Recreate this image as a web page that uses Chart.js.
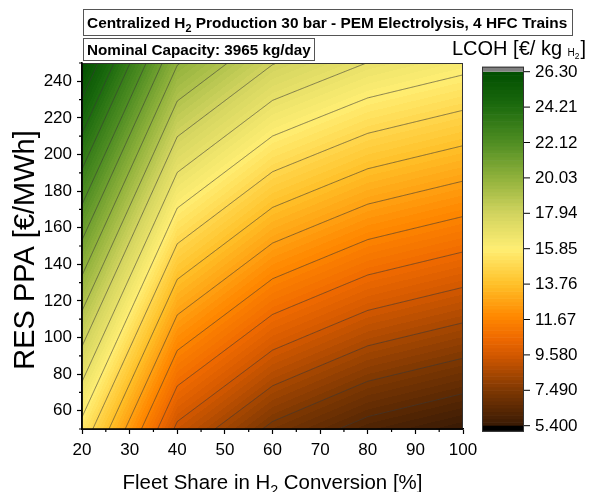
<!DOCTYPE html>
<html><head><meta charset="utf-8">
<script src="https://cdn.jsdelivr.net/npm/chart.js@4.4.1/dist/chart.umd.min.js"></script>
<style>html,body{margin:0;padding:0;background:#fff}</style>
</head><body>
<canvas id="c" width="598" height="492"></canvas>
<script>
// ---------- data ----------
const fleetShare = [20, 40, 60, 80, 100];          // x nodes [%]
const ppa = [50, 100, 150, 200, 250];               // y nodes [€/MWh]
// LCOH [€/kg] at each PPA row, columns follow fleetShare
const lcoh50  = [15.50,  9.36,  7.27,  6.08,  5.40];
const lcoh100 = [18.20, 12.05,  9.95,  8.78,  8.10];
const lcoh150 = [20.90, 14.74, 12.63, 11.48, 10.80];
const lcoh200 = [23.60, 17.42, 15.31, 14.18, 13.50];
const lcoh250 = [26.30, 20.10, 17.99, 16.88, 16.20];
const lcohRows = [lcoh50, lcoh100, lcoh150, lcoh200, lcoh250];
const xTicks = [20, 30, 40, 50, 60, 70, 80, 90, 100];
const yTicks = [60, 80, 100, 120, 140, 160, 180, 200, 220, 240];
const cbTicks = ['26.30','24.21','22.12','20.03','17.94','15.85','13.76','11.67','9.580','7.490','5.400'];
const zMin = 5.40, zMax = 26.30;

// ---------- style ----------
const FONT = '"Liberation Sans", Arial, sans-serif';
const nLines = 20, nBands = 100;
const cmapStops = [
  [0.00, [55, 25, 4]],
  [0.10, [125, 55, 2]],
  [0.20, [210, 88, 0]],
  [0.25, [240, 106, 0]],
  [0.31, [255, 136, 0]],
  [0.40, [255, 192, 40]],
  [0.50, [255, 238, 115]],
  [0.60, [210, 212, 95]],
  [0.70, [145, 178, 60]],
  [0.80, [80, 142, 35]],
  [0.90, [30, 108, 15]],
  [1.00, [0, 78, 0]]
];
function cmap(t) {
  t = Math.max(0, Math.min(1, t));
  for (let i = 1; i < cmapStops.length; i++) {
    if (t <= cmapStops[i][0]) {
      const a = cmapStops[i-1], b = cmapStops[i];
      const f = (t - a[0]) / (b[0] - a[0]);
      return a[1].map((v, k) => Math.round(v + (b[1][k] - v) * f));
    }
  }
  return cmapStops[cmapStops.length-1][1];
}
function seg(arr, v) {
  let i = 0;
  while (i < arr.length - 2 && v > arr[i+1]) i++;
  return i;
}
function zAt(x, y) {
  const i = seg(fleetShare, x), j = seg(ppa, y);
  const tx = (x - fleetShare[i]) / (fleetShare[i+1] - fleetShare[i]);
  const ty = (y - ppa[j]) / (ppa[j+1] - ppa[j]);
  const z00 = lcohRows[j][i], z10 = lcohRows[j][i+1], z01 = lcohRows[j+1][i], z11 = lcohRows[j+1][i+1];
  return z00*(1-tx)*(1-ty) + z10*tx*(1-ty) + z01*(1-tx)*ty + z11*tx*ty;
}
function bandColor(z) {
  const step = (zMax - zMin) / nBands;
  let k = Math.floor((z - zMin) / step);
  k = Math.max(0, Math.min(nBands - 1, k));
  return cmap((k + 0.5) / nBands);
}

function richText(ctx, parts, x, y, size, bold, align) {
  const w = parts.map(p => {
    ctx.font = (bold ? 'bold ' : '') + (p.s || 1) * size + 'px ' + FONT;
    return ctx.measureText(p.t).width;
  });
  const total = w.reduce((a, b) => a + b, 0);
  let cx = align === 'center' ? x - total / 2 : (align === 'right' ? x - total : x);
  ctx.textAlign = 'left';
  ctx.textBaseline = 'alphabetic';
  parts.forEach((p, i) => {
    ctx.font = (bold ? 'bold ' : '') + (p.s || 1) * size + 'px ' + FONT;
    ctx.fillText(p.t, cx, y + (p.dy || 0) * size);
    cx += w[i];
  });
  return total;
}
function fitSize(ctx, parts, bold, target) {
  let s = 10;
  const w = parts.reduce((acc, p) => { ctx.font = (bold ? 'bold ' : '') + (p.s || 1) * s + 'px ' + FONT; return acc + ctx.measureText(p.t).width; }, 0);
  return s * target / w;
}

const contourPlugin = {
  id: 'contour',
  beforeDatasetsDraw(chart) {
    const ctx = chart.ctx, a = chart.chartArea, xs = chart.scales.x, ys = chart.scales.y;
    const L = Math.round(a.left), T = Math.round(a.top);
    const W = Math.round(a.right) - L, H = Math.round(a.bottom) - T;
    const img = ctx.createImageData(W, H);
    for (let py = 0; py < H; py++) {
      const yv = ys.getValueForPixel(T + py + 0.5);
      for (let px = 0; px < W; px++) {
        const xv = xs.getValueForPixel(L + px + 0.5);
        const c = bandColor(zAt(xv, yv));
        const o = (py * W + px) * 4;
        img.data[o] = c[0]; img.data[o+1] = c[1]; img.data[o+2] = c[2]; img.data[o+3] = 255;
      }
    }
    ctx.putImageData(img, L, T);

    // contour lines via marching squares on a fine data grid
    const nx = 320, ny = 400;
    const x0 = xs.min, x1 = xs.max, y0 = ys.min, y1 = ys.max;
    const gx = [], gy = [], g = [];
    for (let i = 0; i <= nx; i++) gx.push(x0 + (x1 - x0) * i / nx);
    for (let j = 0; j <= ny; j++) gy.push(y0 + (y1 - y0) * j / ny);
    for (let j = 0; j <= ny; j++) { const r = []; for (let i = 0; i <= nx; i++) r.push(zAt(gx[i], gy[j])); g.push(r); }
    ctx.save();
    ctx.beginPath();
    ctx.rect(a.left, a.top, a.right - a.left, a.bottom - a.top);
    ctx.clip();
    ctx.strokeStyle = 'rgba(55,55,55,0.75)';
    ctx.lineWidth = 0.8;
    ctx.beginPath();
    for (let k = 1; k < nLines; k++) {
      const lv = zMin + (zMax - zMin) * k / nLines;
      for (let j = 0; j < ny; j++) {
        for (let i = 0; i < nx; i++) {
          const v = [g[j][i], g[j][i+1], g[j+1][i+1], g[j+1][i]];
          const P = [[gx[i], gy[j]], [gx[i+1], gy[j]], [gx[i+1], gy[j+1]], [gx[i], gy[j+1]]];
          const pts = [];
          for (let e = 0; e < 4; e++) {
            const va = v[e], vb = v[(e+1)%4];
            if ((va < lv) !== (vb < lv)) {
              const f = (lv - va) / (vb - va);
              const pa = P[e], pb = P[(e+1)%4];
              pts.push([pa[0] + (pb[0]-pa[0])*f, pa[1] + (pb[1]-pa[1])*f]);
            }
          }
          for (let q = 0; q + 1 < pts.length; q += 2) {
            ctx.moveTo(xs.getPixelForValue(pts[q][0]), ys.getPixelForValue(pts[q][1]));
            ctx.lineTo(xs.getPixelForValue(pts[q+1][0]), ys.getPixelForValue(pts[q+1][1]));
          }
        }
      }
    }
    ctx.stroke();
    ctx.restore();
  },
  afterDraw(chart) {
    const ctx = chart.ctx, a = chart.chartArea, xs = chart.scales.x, ys = chart.scales.y;
    ctx.save();
    // frame
    ctx.strokeStyle = '#333'; ctx.lineWidth = 1;
    ctx.strokeRect(a.left, a.top + 0.5, a.right - a.left - 0.5, a.bottom - a.top);
    ctx.strokeStyle = '#000'; ctx.lineWidth = 1.6;
    ctx.beginPath();
    ctx.moveTo(a.left, a.top); ctx.lineTo(a.left, a.bottom); ctx.lineTo(a.right, a.bottom);
    ctx.stroke();
    // minor ticks
    ctx.lineWidth = 1.2;
    ctx.beginPath();
    for (let i = 0; i + 1 < xTicks.length; i++) {
      const px = xs.getPixelForValue((xTicks[i] + xTicks[i+1]) / 2);
      ctx.moveTo(px, a.bottom); ctx.lineTo(px, a.bottom + 3);
    }
    const yMinor = [ys.min].concat(yTicks.slice(0, -1).map((v, i) => (v + yTicks[i+1]) / 2)).concat([yTicks[yTicks.length-1] + 10]);
    yMinor.forEach(v => { const py = ys.getPixelForValue(v); ctx.moveTo(a.left, py); ctx.lineTo(a.left - 3, py); });
    ctx.stroke();

    // title boxes
    ctx.fillStyle = '#000';
    ctx.strokeStyle = '#555'; ctx.lineWidth = 1;
    ctx.strokeRect(83.5, 9.5, 489, 26);
    const tParts = [{t: 'Centralized H'}, {t: '2', s: 0.7, dy: 0.28}, {t: ' Production 30 bar - PEM Electrolysis, 4 HFC Trains'}];
    richText(ctx, tParts, 87, 28, fitSize(ctx, tParts, true, 481), true, 'left');
    ctx.strokeRect(83.5, 38.5, 231, 22);
    const nParts = [{t: 'Nominal Capacity: 3965 kg/day'}];
    richText(ctx, nParts, 87, 55, fitSize(ctx, nParts, true, 224), true, 'left');

    // axis titles
    const xParts = [{t: 'Fleet Share in H'}, {t: '2', s: 0.7, dy: 0.28}, {t: ' Conversion [%]'}];
    richText(ctx, xParts, (a.left + a.right) / 2, 489, fitSize(ctx, xParts, false, 300), false, 'center');
    ctx.save();
    ctx.translate(34, 250);
    ctx.rotate(-Math.PI / 2);
    richText(ctx, [{t: 'RES PPA [€/MWh]'}], 0, 0, 29, false, 'center');
    ctx.restore();

    // colorbar
    const cbL = 482, cbR = 524, cbT = 71.7, cbB = 425.7;
    const bh = (cbB - cbT) / nBands;
    for (let k = 0; k < nBands; k++) {
      const c = cmap((k + 0.5) / nBands);
      ctx.fillStyle = 'rgb(' + c.join(',') + ')';
      ctx.fillRect(cbL, cbB - (k + 1) * bh, cbR - cbL, bh + 0.6);
    }
    ctx.fillStyle = '#808080'; ctx.fillRect(cbL, cbT - 5, cbR - cbL, 5);
    ctx.fillStyle = '#000'; ctx.fillRect(cbL, cbB, cbR - cbL, 6);
    ctx.strokeStyle = '#333'; ctx.lineWidth = 1;
    ctx.strokeRect(cbL + 0.5, cbT - 5 + 0.5, cbR - cbL - 1, cbB + 6 - (cbT - 5) - 1);
    ctx.beginPath();
    ctx.fillStyle = '#000';
    cbTicks.forEach((lab, i) => {
      const py = cbT + (cbB - cbT) * i / (cbTicks.length - 1);
      ctx.moveTo(cbR, py); ctx.lineTo(cbR + 6, py);
      ctx.font = '17px ' + FONT; ctx.textAlign = 'left'; ctx.textBaseline = 'middle';
      ctx.fillText(lab, 535, py + 0.5);
    });
    ctx.strokeStyle = '#000'; ctx.stroke();
    // colorbar title
    ctx.fillStyle = '#000';
    let w = richText(ctx, [{t: 'LCOH [€/ kg '}], 452, 55, 20, false, 'left');
    w += richText(ctx, [{t: 'H', s: 0.5, dy: 0.05}], 452 + w, 55, 20, false, 'left');
    w += richText(ctx, [{t: '2', s: 0.42, dy: 0.2}], 452 + w, 55, 20, false, 'left');
    richText(ctx, [{t: ']'}], 452 + w + 1, 55, 20, false, 'left');
    ctx.restore();
  }
};

new Chart(document.getElementById('c'), {
  type: 'scatter',
  data: { datasets: [{ data: [], pointRadius: 0 }] },
  options: {
    responsive: false, animation: false, devicePixelRatio: 1,
    layout: { padding: { left: 0, right: 135, top: 63, bottom: 0 } },
    plugins: { legend: { display: false }, tooltip: { enabled: false } },
    scales: {
      x: {
        type: 'linear', min: 20, max: 100,
        afterBuildTicks: s => { s.ticks = xTicks.map(v => ({ value: v })); },
        afterFit: s => { s.height = 63; },
        ticks: { color: '#000', font: { family: FONT, size: 17 }, padding: 6, maxRotation: 0, autoSkip: false },
        grid: { drawOnChartArea: false, tickLength: 5, tickColor: '#000', tickWidth: 1.2 },
        border: { color: '#000', width: 1.6 }
      },
      y: {
        type: 'linear', min: 50, max: 250,
        afterBuildTicks: s => { s.ticks = yTicks.map(v => ({ value: v })); },
        afterFit: s => { s.width = 82; },
        ticks: { color: '#000', font: { family: FONT, size: 17 }, padding: 5, autoSkip: false },
        grid: { drawOnChartArea: false, tickLength: 5, tickColor: '#000', tickWidth: 1.2 },
        border: { color: '#000', width: 1.6 }
      }
    }
  },
  plugins: [contourPlugin]
});
</script>
</body></html>
